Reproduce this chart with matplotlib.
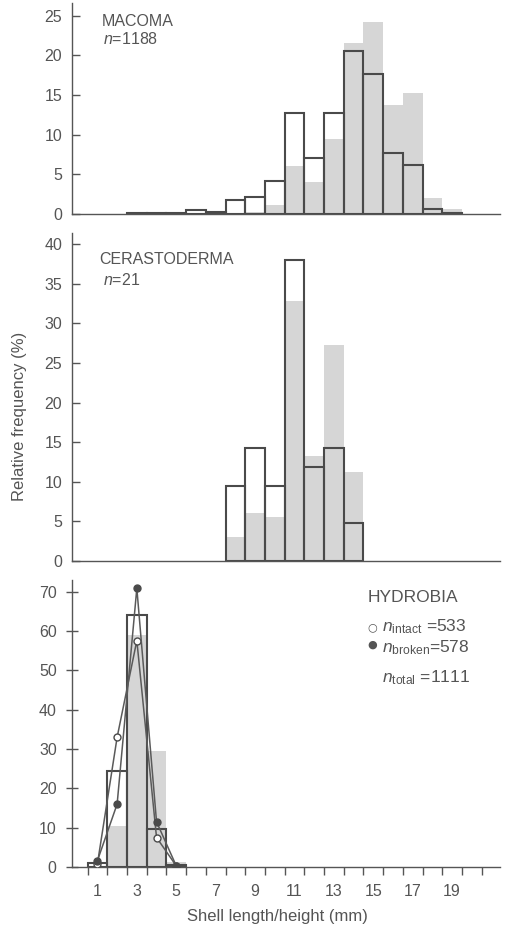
import matplotlib
matplotlib.use("Agg")
import matplotlib.pyplot as plt
import numpy as np

plt.rcParams['font.family'] = ['Liberation Sans', 'DejaVu Sans']
plt.rcParams['mathtext.fontset'] = 'custom'
plt.rcParams['mathtext.rm'] = 'Liberation Sans'
plt.rcParams['mathtext.it'] = 'Liberation Sans:italic'

# Macoma, n = 1188
mac_bins = np.arange(3, 20)
mac_white = [0.1, 0.1, 0.1, 0.5, 0.25, 1.8, 2.1, 4.1, 12.7, 7.0, 12.7, 20.5, 17.7, 7.7, 6.2, 0.6, 0.1]
mac_grey = [0, 0, 0, 0, 0, 0, 0.3, 1.1, 6.0, 4.0, 9.4, 21.5, 24.2, 13.8, 15.3, 2.0, 0.6]

# Cerastoderma, n = 21
cer_bins = np.arange(8, 15)
cer_white = [9.5, 14.2, 9.5, 38.0, 11.9, 14.2, 4.8]
cer_grey = [3.0, 6.0, 5.5, 32.8, 13.2, 27.3, 11.2]

# Hydrobia
hyd_bins = np.arange(1, 6)
hyd_white = [1.0, 24.4, 64.0, 9.7, 0.4]
hyd_grey = [0, 10.4, 59.0, 29.4, 1.2]
hyd_intact = [0.8, 33.0, 57.6, 7.5, 0.3]
hyd_broken = [1.6, 16.0, 70.9, 11.5, 0.3]

ink = '#555555'
fill = '#d6d6d6'

W, H = 507, 926
fig = plt.figure(figsize=(W / 100, H / 100), dpi=100)


def make_ax(top_px, bot_px, ymax, yticks):
    ax = fig.add_axes([72 / W, 1 - bot_px / H, (500 - 72) / W, (bot_px - top_px) / H])
    ax.set_xlim(-0.29, 21.43)
    ax.set_ylim(0, ymax)
    ax.set_yticks(yticks)
    for s in ['top', 'right']:
        ax.spines[s].set_visible(False)
    for s in ['left', 'bottom']:
        ax.spines[s].set_color(ink)
        ax.spines[s].set_linewidth(1.0)
    ax.tick_params(axis='y', direction='in', length=6, width=1.0, color=ink,
                   labelcolor=ink, labelsize=11.5, pad=7)
    return ax


def hist(ax, bins, white, grey):
    ax.bar(bins, grey, width=1.0, color=fill, edgecolor='none', zorder=1)
    ax.bar(bins, white, width=1.0, facecolor='none', edgecolor='#4a4a4a',
           linewidth=1.5, zorder=2)


ax1 = make_ax(3, 214, 26.6, np.arange(0, 26, 5))
hist(ax1, mac_bins, mac_white, mac_grey)
ax1.set_xticks([])
ax1.text(1.2, 24.3, 'MACOMA', color=ink, fontsize=11.5, va='center')
ax1.text(1.3, 22.0, r'$n$=1188', color=ink, fontsize=11.5, va='center')

ax2 = make_ax(233, 561, 41.4, np.arange(0, 41, 5))
hist(ax2, cer_bins, cer_white, cer_grey)
ax2.set_xticks([])
ax2.text(1.1, 38.0, 'CERASTODERMA', color=ink, fontsize=11.5, va='center')
ax2.text(1.3, 35.5, r'$n$=21', color=ink, fontsize=11.5, va='center')

ax3 = make_ax(580, 867, 73, np.arange(0, 71, 10))
hist(ax3, hyd_bins, hyd_white, hyd_grey)
ax3.plot(hyd_bins, hyd_intact, '-o', color='#5a5a5a', lw=1.1, ms=5,
         mfc='white', mec='#4a4a4a', mew=1.0, zorder=3)
ax3.plot(hyd_bins, hyd_broken, '-o', color='#5a5a5a', lw=1.1, ms=5,
         mfc='#4a4a4a', mec='#4a4a4a', zorder=3)
ax3.tick_params(axis='y', direction='inout', length=8)
ax3.set_xticks(np.arange(1, 20, 2))
ax3.set_xticks(np.arange(0.5, 21, 1), minor=True)
ax3.tick_params(axis='x', which='major', length=0, labelsize=11.5,
                labelcolor=ink, pad=12)
ax3.tick_params(axis='x', which='minor', direction='out', length=6,
                width=1.0, color=ink)
ax3.set_xlabel('Shell length/height (mm)', color=ink, fontsize=12)
ax3.xaxis.set_label_coords(0.479, -0.145)
ax3.xaxis.label.set_va('top')

fig.text(20 / W, 1 - 416 / H, 'Relative frequency (%)', rotation=90,
         ha='center', va='center', color=ink, fontsize=12)

fig.text(368 / W, 1 - 598 / H, 'HYDROBIA', color=ink, fontsize=12.5, va='center')
fig.text(372 / W, 1 - 627 / H, '\u25cb', color=ink, fontsize=8, ha='center',
         va='center', family='DejaVu Sans')
fig.text(382 / W, 1 - 627 / H, r'$n_{\mathrm{intact}}$ =533', color=ink,
         fontsize=12.5, va='center')
fig.text(372 / W, 1 - 645 / H, '\u25cf', color=ink, fontsize=8, ha='center',
         va='center', family='DejaVu Sans')
fig.text(382 / W, 1 - 648 / H, r'$n_{\mathrm{broken}}$=578', color=ink,
         fontsize=12.5, va='center')
fig.text(382 / W, 1 - 678 / H, r'$n_{\mathrm{total}}$ =1111', color=ink,
         fontsize=12.5, va='center')

fig.savefig('out.png', dpi=100)
